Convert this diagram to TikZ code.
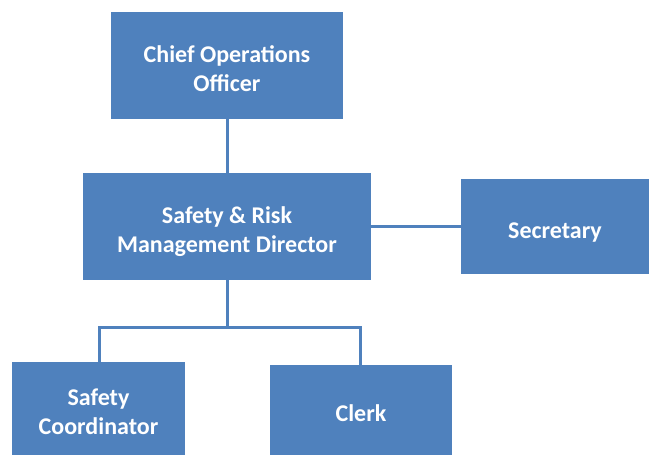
\documentclass[tikz,border=0pt]{standalone}
\usepackage{fontspec}
\setmainfont{Carlito}
\definecolor{boxblue}{HTML}{4F81BD}
\newcommand{\boxtxt}[1]{\raisebox{0pt}[\dimexpr\height+12pt\relax][\depth]{\begin{tabular}{@{}c@{}}#1\end{tabular}}}
\begin{document}
\begin{tikzpicture}[x=1pt,y=-1pt,
  box/.style={fill=boxblue,draw=none,text=white,font=\fontsize{24}{29}\selectfont\bfseries,inner sep=0pt},
  link/.style={draw=boxblue,line width=3pt}]
\useasboundingbox (0,0) rectangle (649,455);
\node[box,minimum width=232pt,minimum height=107pt] (coo) at (227,65.5) {\boxtxt{Chief Operations\\Officer}};
\node[box,minimum width=288pt,minimum height=107pt] (dir) at (227,226.5) {\boxtxt{Safety \& Risk\\Management Director}};
\node[box,minimum width=188pt,minimum height=95pt] (sec) at (555,226.5) {\boxtxt{Secretary}};
\node[box,minimum width=173pt,minimum height=93pt] (sc) at (98.5,408.5) {\boxtxt{Safety\\Coordinator}};
\node[box,minimum width=182pt,minimum height=90pt] (clerk) at (361,410) {\boxtxt{Clerk}};
\coordinate (j) at (227,327);
\draw[link] (coo.south) -- (dir.north);
\draw[link] (dir.east) -- (sec.west);
\draw[link] (dir.south) -- (j);
\draw[link] (sc.north -| 99,0) |- (j) -| (clerk.north -| 360,0);
\end{tikzpicture}
\end{document}
